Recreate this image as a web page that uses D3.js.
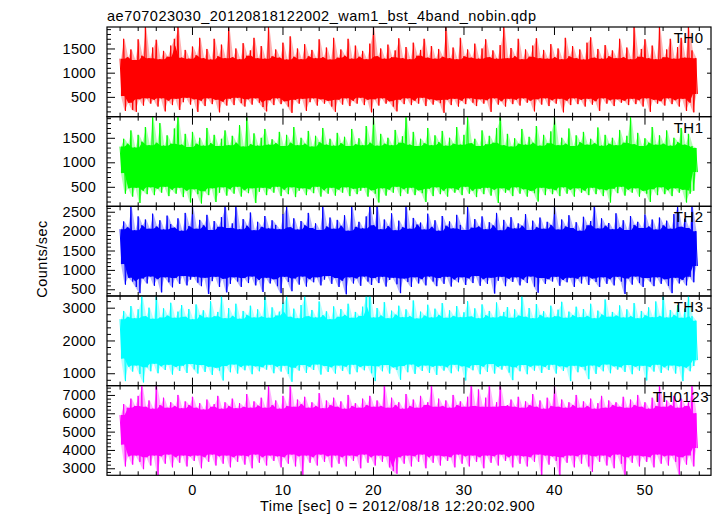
<!DOCTYPE html>
<html><head><meta charset="utf-8">
<script src="https://cdn.jsdelivr.net/npm/d3@7"></script>
<style>body{margin:0;background:#fff}text{font-family:"Liberation Sans",Arial,Helvetica,sans-serif;fill:#000}</style>
</head><body>
<svg id="c" width="717" height="516"></svg>
<script>
const title = "ae707023030_20120818122002_wam1_bst_4band_nobin.qdp";
const xLabel = "Time [sec] 0 = 2012/08/18 12:20:02.900";
const yLabel = "Counts/sec";
const panelNames = ["TH0", "TH1", "TH2", "TH3", "TH0123"];
const panelColors = ["#ff0000", "#00ff00", "#0000ff", "#00ffff", "#ff00ff"];
const timeStart = -7.95, timeStep = 0.4;   // sampling of the binned light curve (sec)
const xMajorTicks = [0, 10, 20, 30, 40, 50];
const yDomains = [[91, 1944], [102, 1931], [327, 2640], [622, 3357], [2617, 7508]];
const yMajorTicks = [[500, 1000, 1500], [500, 1000, 1500], [500, 1000, 1500, 2000, 2500], [1000, 2000, 3000], [3000, 4000, 5000, 6000, 7000]];
const yMinorStep = [100, 100, 100, 200, 200];
const yRightStep = [500, 500, 500, 500, 1000];

// per-bin maximum / minimum count rate (counts/sec)
const th0Hi = [1290,1700,1320,1480,1260,1690,1350,1945,1300,1520, 1680,1280,1450,1330,1560,1700,1945,1310,1470,1290,
 1540,1360,1720,1300,1490,1270,1700,1340,1580,1300, 1945,1320,1500,1280,1610,1350,1460,1720,1300,1550,
 1290,1945,1340,1480,1310,1620,1270,1750,1330,1500, 1280,1590,1340,1470,1300,1690,1320,1520,1270,1720,
 1310,1480,1350,1700,1290,1560,1330,1450,1280,1600, 1945,1340,1500,1290,1580,1320,1460,1710,1300,1530,
 1280,1620,1350,1470,1700,1310,1550,1290,1490,1330, 1945,1300,1520,1280,1720,1340,1480,1310,1600,1290,
 1500,1690,1320,1460,1290,1570,1945,1300,1510,1340, 1700,1280,1480,1330,1560,1710,1300,1470,1290,1590,
 1320,1500,1280,1720,1340,1550,1300,1480,1270,1620, 1730,1310,1490,1290,1570,1340,1460,1300,1700,1320,
 1520,1280,1945,1330,1490,1690,1300,1560,1280,1945, 1320,1480,1700,1290,1530,1720,1310,1945,1460,1300];
const th0Lo = [520,210,380,230,190,450,320,470,360,440, 300,470,200,420,330,460,230,390,480,340,
 450,190,420,310,470,350,440,180,400,320, 460,330,480,370,300,450,340,470,380,290,
 200,430,330,470,350,410,300,170,440,360, 460,210,390,470,320,450,360,420,300,190,
 440,340,470,310,420,360,480,330,440,180, 450,320,470,360,410,300,200,440,350,470,
 330,420,360,480,310,450,340,430,370,170, 440,330,460,300,420,350,470,380,310,450,
 360,430,190,470,340,410,300,460,350,440, 320,470,380,420,200,450,340,470,310,430,
 360,460,180,420,330,470,350,440,300,460, 340,410,210,470,360,430,310,450,380,420,
 330,460,350,430,300,470,190,440,360,410, 320,470,350,430,300,460,210,380,180,560];
const th1Hi = [1320,1480,1380,1650,1300,1560,1420,1720,1350,1925, 1400,1800,1340,1550,1380,1690,1925,1360,1580,1310,
 1620,1380,1500,1340,1700,1390,1560,1330,1480,1650, 1350,1540,1400,1760,1320,1925,1370,1590,1340,1500,
 1680,1360,1470,1390,1620,1330,1560,1400,1720,1350, 1500,1380,1640,1320,1540,1410,1700,1360,1480,1340,
 1600,1390,1520,1330,1680,1370,1490,1350,1740,1400, 1925,1340,1580,1380,1500,1350,1660,1400,1530,1925,
 1360,1620,1330,1480,1390,1700,1350,1550,1410,1640, 1340,1500,1380,1720,1360,1560,1925,1390,1480,1330,
 1650,1370,1540,1400,1700,1925,1350,1580,1320,1490, 1380,1680,1360,1520,1400,1740,1340,1560,1390,1630,
 1925,1350,1500,1380,1690,1330,1550,1410,1620,1360, 1480,1390,1710,1340,1560,1380,1500,1350,1660,1400,
 1540,1925,1370,1600,1330,1490,1400,1720,1360,1550, 1380,1650,1340,1500,1410,1700,1360,1580,1330,1290];
const th1Lo = [780,360,470,300,480,170,420,350,490,330, 460,380,500,310,440,360,480,290,420,180,
 450,350,160,410,330,470,190,380,490,320, 450,360,500,300,430,370,470,170,400,480,
 330,460,380,500,310,440,350,490,290,420, 470,330,450,370,500,300,430,360,480,320,
 440,380,490,310,460,350,420,480,300,430, 360,180,470,320,440,380,500,310,450,360,
 480,330,430,370,190,460,310,490,350,420, 300,470,380,440,330,500,360,420,290,460,
 350,480,320,440,170,470,380,430,310,490, 360,450,300,420,370,200,480,330,460,350,
 430,310,490,360,440,300,470,380,420,330, 480,350,450,310,430,180,460,370,500,320,
 440,380,470,300,420,360,190,450,330,490, 350,430,310,470,380,440,180,360,420,800];
const th2Hi = [2050,2250,2100,2645,2020,2380,2150,2300,2060,2450, 2120,2280,2040,2400,2180,2090,2330,2010,2470,2130,
 2645,2060,2290,2150,2420,2030,2260,2110,2360,2645, 2080,2200,2645,2050,2310,2140,2480,2020,2240,2110,
 2390,2070,2280,2160,2050,2440,2645,2100,2330,2040, 2260,2150,2470,2080,2200,2030,2645,2120,2350,2060,
 2290,2140,2410,2010,2645,2110,2240,2070,2380,2645, 2150,2645,2050,2300,2130,2460,2020,2270,2100,2645,
 2060,2340,2170,2220,2040,2450,2110,2280,2010,2390, 2140,2250,2070,2420,2160,2030,2645,2090,2310,2120,
 2380,2050,2230,2150,2470,2020,2290,2110,2360,2070, 2200,2140,2440,2030,2270,2100,2350,2060,2240,2160,
 2645,2040,2300,2120,2410,2080,2230,2010,2370,2150, 2260,2645,2070,2330,2140,2210,2050,2460,2100,2280,
 2030,2390,2160,2240,2080,2430,2120,2300,2040,2350, 2150,2270,2060,2440,2645,2110,2320,2080,2645,2000];
const th2Lo = [1150,620,800,700,560,400,780,650,830,590, 760,420,810,680,550,790,640,840,600,750,
 820,670,580,800,380,710,820,560,770,420, 640,810,700,560,790,660,830,600,740,430,
 800,650,760,580,400,820,690,450,780,620, 830,570,760,680,810,600,750,840,640,790,
 560,720,370,810,650,780,590,830,700,610, 790,660,820,570,740,800,630,400,780,690,
 560,810,650,760,600,830,700,580,790,640, 820,570,750,680,810,610,780,660,840,590,
 760,640,800,390,720,820,580,770,690,810, 600,750,660,830,570,410,790,640,760,700,
 820,590,740,680,800,560,770,650,830,610, 780,690,560,810,640,760,600,820,700,380,
 780,620,830,660,560,790,700,580,810,640, 760,590,400,800,650,740,600,820,680,1100];
const th3Hi = [2650,2900,2720,3050,2680,2950,3357,2740,3000,2660, 3357,2700,2980,2760,3150,2690,2880,3080,2720,2960,
 2650,3100,2780,2920,2700,3200,2740,2870,3357,2680, 2990,2750,3120,2660,2900,2780,3060,2700,2950,2730,
 3357,2690,3010,2760,2880,3150,3357,2720,2970,2680, 3080,3357,2740,2930,2700,3190,2770,2890,2650,3040,
 2720,2960,2780,3120,2690,2870,2750,3030,3357,3357, 2700,2990,2760,3170,2680,2910,2790,3060,2710,2950,
 2740,3220,2670,2880,2760,3090,2700,2970,2780,3140, 2690,2920,2750,3050,2710,2860,3200,2730,2980,2680,
 3100,2770,2900,2700,3160,2740,2870,3020,2690,2950, 2760,3357,2720,2990,2680,3110,2780,2890,2700,3060,
 2740,2940,3180,2690,2880,2770,3030,2710,2960,2750, 3120,2680,2910,2790,3250,2720,2870,2760,3070,2700,
 2950,2740,3140,2680,2900,2770,3010,2710,3190,2750, 3357,2700,2930,2780,3080,2690,2970,3357,2740,2600];
const th3Lo = [1450,760,1200,1050,1240,980,720,1180,1060,1290, 1000,1210,1100,1260,960,1190,1070,1230,1010,1280,
 1120,990,1250,1040,1200,950,1170,1080,780,1220, 1030,1270,990,1190,1090,1240,970,1210,1060,1180,
 1110,1260,1000,1200,1050,1230,980,740,1170,1080, 1250,1010,1190,1100,1270,960,1220,1040,1180,990,
 1240,1070,1200,970,1260,1030,1190,1090,1230,1000, 760,1210,1060,1250,990,1180,1100,800,1220,1030,
 1270,980,1190,1070,1240,1010,1200,950,1230,1080, 1180,1000,1260,1060,1210,780,1170,1090,1250,970,
 1200,1040,1280,990,1190,1110,1230,1020,790,1180, 1060,1250,970,1200,1080,1240,1010,1190,1100,1260,
 990,1210,1070,1180,760,1230,1030,1200,1090,820, 1240,980,1190,1060,1270,1000,1210,1110,1180,1040,
 1250,970,1200,1080,1230,780,1190,1050,1260,1010, 1180,1090,1240,990,1210,760,1170,1060,1220,1400];
const th0123Hi = [5900,6500,6300,6800,6400,6950,7510,6350,6700,6250, 7510,6450,6850,6300,6600,6400,7000,6280,6650,6450,
 6900,6300,6550,6200,6750,6350,6500,6950,6250,6600, 6400,6800,6280,6550,6350,7050,6300,6650,6420,6850,
 6300,7510,6450,6700,6250,6950,6400,7510,6350,6750, 6500,6900,6300,6600,6400,7100,6280,6700,6450,6850,
 6350,6650,6250,7000,6400,6550,6300,6800,6450,6950, 6350,6700,6400,7510,6300,6850,6450,6600,6250,7050,
 6400,6750,6300,6950,6450,6600,7510,6350,6800,6400, 6700,6300,7000,6450,6650,6350,6900,7510,6400,7300,
 6350,6850,7510,6350,6600,7510,6400,6450,6750,6350, 6900,6300,6650,6450,7050,6350,6700,6250,6850,6400,
 7510,6350,6750,6300,6600,6450,7000,6300,6650,6400, 6800,6250,6550,6950,6300,6700,6450,6600,6350,6900,
 6300,6750,6450,7000,6350,6600,6250,6850,6400,7510, 6350,6700,6450,6950,6300,6800,6400,6600,7510,6000];
const th0123Lo = [4300,3100,3650,3200,3700,3350,2950,3600,3150,3700, 2620,3650,3250,3750,3050,3600,3300,3700,3100,3650,
 3400,3700,3000,3600,3350,3750,3150,3650,3250,3700, 3050,3600,3350,3700,3200,3650,3000,3750,3300,3600,
 3150,3700,3400,3650,3050,3600,3250,3750,3100,3650, 2620,3700,3300,3600,3150,3750,3350,3650,3050,3700,
 3250,3600,3100,3700,3400,3650,3000,3750,3300,3600, 3150,3700,3350,3650,3050,2850,2700,3600,3250,3700,
 3100,3650,3350,3750,3000,3600,3300,3700,3150,3650, 3400,3600,3050,3750,3250,3650,3100,3700,3350,3600,
 3000,3700,3300,3650,3150,3750,3400,3600,3050,3700, 3250,3650,3100,3600,3350,3750,2620,3700,3200,3650,
 3400,2620,3600,3300,3700,3050,3650,3250,3750,3100, 2800,3650,3350,3700,3150,3600,3000,3750,3250,2620,
 3600,3300,3700,3100,3650,3350,3600,3050,3750,3250, 3650,3150,3700,3350,2650,3600,3200,3700,3100,4100];

const seriesHi = [th0Hi, th1Hi, th2Hi, th3Hi, th0123Hi];
const seriesLo = [th0Lo, th1Lo, th2Lo, th3Lo, th0123Lo];
const times = th0Hi.map((_, i) => timeStart + i * timeStep);

const svg = d3.select("#c");
const L = 107, R = 711, T = 27, B = 475.3;
const ph = (B - T) / panelNames.length;
const x = d3.scaleLinear().domain([-9.39, 57.35]).range([L, R]);
const xMinor = d3.range(-8, 57, 2).filter(v => !xMajorTicks.includes(v));
const fmt = d3.format("d");

svg.append("text").attr("x", L).attr("y", 21).style("font-size", "14.5px").style("letter-spacing", "0.5px").text(title);

panelNames.forEach((name, k) => {
  const top = T + k * ph, bot = top + ph;
  const y = d3.scaleLinear().domain(yDomains[k]).range([bot, top]);
  const g = svg.append("g");
  const cid = "clip" + k;
  svg.append("clipPath").attr("id", cid).append("rect").attr("x", L).attr("y", top).attr("width", R - L).attr("height", ph);
  const hi = seriesHi[k], lo = seriesLo[k];
  const n = hi.length;
  const xm = (d, i) => x(times[i] + timeStep / 4);
  // faint haze spanned by the spikes (full envelope)
  const env = d3.area().x(xm).y0((d, i) => y(lo[i])).y1((d, i) => y(hi[i]));
  g.append("path").datum(hi).attr("d", env).attr("fill", panelColors[k]).attr("fill-opacity", 0.3).attr("clip-path", `url(#${cid})`);
  // dense core: where successive samples overlap (local min of maxima, local max of minima)
  const coreHi = hi.map((v, i) => Math.min(hi[Math.max(0, i - 1)], v, hi[Math.min(n - 1, i + 1)]));
  const coreLo = lo.map((v, i) => Math.max(lo[Math.max(0, i - 1)], v, lo[Math.min(n - 1, i + 1)]));
  const area = d3.area().x(xm).y0((d, i) => y(coreLo[i])).y1((d, i) => y(coreHi[i]));
  g.append("path").datum(hi).attr("d", area).attr("fill", panelColors[k]).attr("clip-path", `url(#${cid})`);
  // light curve: max and min of each bin, in time order
  const pts = [];
  hi.forEach((v, i) => { pts.push([times[i], v]); pts.push([times[i] + timeStep / 2, lo[i]]); });
  const line = d3.line().x(d => x(d[0])).y(d => y(d[1]));
  g.append("path").datum(pts).attr("d", line).attr("fill", "none").attr("stroke", panelColors[k])
    .attr("stroke-width", 1).attr("stroke-linejoin", "round").attr("clip-path", `url(#${cid})`);

  const dom = yDomains[k];
  const ym = d3.range(Math.ceil(dom[0] / yMinorStep[k]) * yMinorStep[k], dom[1], yMinorStep[k]).filter(v => !yMajorTicks[k].includes(v));
  const yr = d3.range(Math.ceil(dom[0] / yRightStep[k]) * yRightStep[k], dom[1], yRightStep[k]);
  const ax = [];
  ax.push(svg.append("g").attr("transform", `translate(${L},0)`).call(d3.axisLeft(y).tickValues(yMajorTicks[k]).tickSize(-8).tickSizeOuter(0).tickPadding(11).tickFormat(fmt)));
  ax.push(svg.append("g").attr("transform", `translate(${L},0)`).call(d3.axisLeft(y).tickValues(ym).tickSize(-4).tickSizeOuter(0).tickFormat("")));
  ax.push(svg.append("g").attr("transform", `translate(${R},0)`).call(d3.axisRight(y).tickValues(yr).tickSize(-4).tickSizeOuter(0).tickFormat("")));
  ax.push(svg.append("g").attr("transform", `translate(0,${top})`).call(d3.axisTop(x).tickValues(xMajorTicks).tickSize(-8).tickSizeOuter(0).tickFormat("")));
  ax.push(svg.append("g").attr("transform", `translate(0,${top})`).call(d3.axisTop(x).tickValues(xMinor).tickSize(-4).tickSizeOuter(0).tickFormat("")));
  const last = k === panelNames.length - 1;
  ax.push(svg.append("g").attr("transform", `translate(0,${bot})`).call(d3.axisBottom(x).tickValues(xMajorTicks).tickSize(-8).tickSizeOuter(0).tickPadding(9).tickFormat(last ? fmt : "")));
  ax.push(svg.append("g").attr("transform", `translate(0,${bot})`).call(d3.axisBottom(x).tickValues(xMinor).tickSize(-4).tickSizeOuter(0).tickFormat("")));
  ax.forEach(a => {
    a.select(".domain").remove();
    a.selectAll("line").attr("stroke", "#000");
    a.selectAll("text").style("font-size", "14.5px").style("font-family", '"Liberation Sans",Arial,sans-serif').style("letter-spacing", "0.3px").attr("fill", "#000");
  });
  svg.append("rect").attr("x", L).attr("y", top).attr("width", R - L).attr("height", ph).attr("fill", "none").attr("stroke", "#000").attr("stroke-width", 1.2);
  const lab = svg.append("text").attr("y", top + 16).style("font-size", "15px").style("letter-spacing", "0.5px").text(name);
  const w = lab.node().getComputedTextLength();
  lab.attr("x", Math.min(673.7, 709 - w));
});

svg.append("text").attr("x", 397.5).attr("y", 511).attr("text-anchor", "middle").style("font-size", "14.5px").style("letter-spacing", "0.5px").text(xLabel);
svg.append("text").attr("transform", "translate(46.5,259) rotate(-90)").attr("text-anchor", "middle").style("font-size", "14.5px").style("letter-spacing", "0.5px").text(yLabel);
</script>
</body></html>
